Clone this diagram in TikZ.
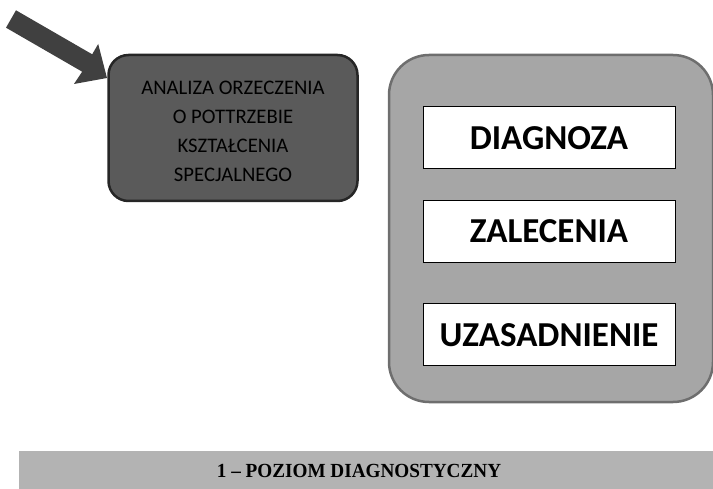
\documentclass[tikz,border=0pt]{standalone}
\usepackage{fontspec}
\setmainfont{Carlito}
\newfontfamily\timesfont{Liberation Serif}
\usetikzlibrary{positioning}
\definecolor{arrowgray}{HTML}{404040}
\definecolor{darkfill}{HTML}{5A5A5A}
\definecolor{darkline}{HTML}{262626}
\definecolor{midfill}{HTML}{A6A6A6}
\definecolor{midline}{HTML}{6E6E6E}
\definecolor{bandfill}{HTML}{B3B3B3}
\begin{document}
\begin{tikzpicture}[x=1pt, y=-1pt,
    etap/.style={draw=black, fill=white, line width=1pt, minimum width=252pt,
        minimum height=62pt, font=\fontsize{35}{40}\selectfont\bfseries},
    analiza/.style={draw=darkline, fill=darkfill, line width=2.5pt, rounded corners=20pt,
        minimum width=249pt, minimum height=146pt, align=center,
        font=\fontsize{20.7}{29}\selectfont}]
\useasboundingbox (0,0) rectangle (713,489);
% Strzalka
\fill[arrowgray] (16,10.3) -- (92.2,54.3) -- (98.2,44) -- (107,78)
    -- (74,84) -- (82.2,71.7) -- (6,27.7) -- cycle;
% Analiza orzeczenia
\node[analiza] (A) at (233,128) {};
\node[font=\fontsize{20.7}{29}\selectfont, align=center] (AT) at (233,131)
    {ANALIZA ORZECZENIA\\O POTTRZEBIE\\KSZTAŁCENIA\\SPECJALNEGO};
% Ramka z wynikami
\node[draw=midline, fill=midfill, line width=2.5pt, rounded corners=40pt,
    minimum width=324pt, minimum height=347pt] (R) at (551,228.5) {};
\node[etap] (D) at (549,138) {DIAGNOZA};
\node[etap] (Z) at (549,231.5) {ZALECENIA};
\node[etap] (U) at (549,335) {UZASADNIENIE};
% Pasek poziomu
\fill[bandfill] (19,451) rectangle (713,489);
\node[font=\timesfont\fontsize{20}{22}\selectfont\bfseries, xscale=0.96] (P) at (359,471)
    {1 – POZIOM DIAGNOSTYCZNY};
\end{tikzpicture}
\end{document}
